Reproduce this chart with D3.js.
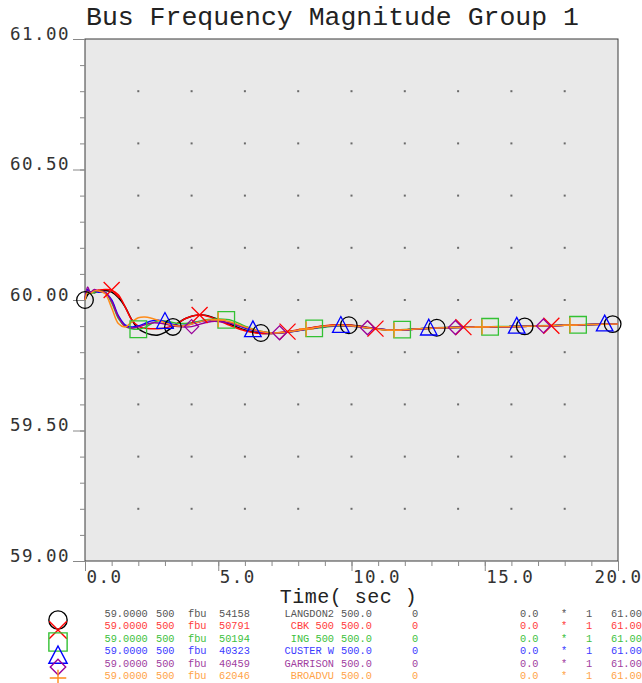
<!DOCTYPE html>
<html>
<head>
<meta charset="utf-8">
<script src="https://cdn.jsdelivr.net/npm/d3@7"></script>
<style>
  html, body { margin: 0; padding: 0; background: #ffffff; }
  svg { display: block; }
</style>
</head>
<body>
<svg id="chart" width="642" height="683"></svg>
<script>
// ---- data ----------------------------------------------------------------
const times = [0, 0.1, 0.2, 0.35, 0.5, 0.75, 1, 1.25, 1.5, 1.75,
  2, 2.25, 2.5, 2.75, 3, 3.25, 3.5, 3.75, 4, 4.25,
  4.5, 4.75, 5, 5.5, 6, 6.5, 7, 7.5, 8, 8.5,
  9, 9.5, 10, 10.5, 11, 11.5, 12, 13, 14, 15,
  16, 17, 18, 19, 20];

const freqLangdon = [60.000, 60.020, 60.030, 60.028, 60.035, 60.036, 60.030, 60.010, 59.975, 59.925,
  59.890, 59.875, 59.867, 59.866, 59.876, 59.893, 59.912, 59.928, 59.938, 59.943,
  59.942, 59.935, 59.925, 59.905, 59.885, 59.874, 59.872, 59.876, 59.884, 59.893,
  59.900, 59.904, 59.903, 59.897, 59.889, 59.885, 59.886, 59.893, 59.896, 59.897,
  59.898, 59.900, 59.903, 59.906, 59.908];

const freqCbk = [60.000, 60.035, 60.030, 60.036, 60.038, 60.040, 60.038, 60.020, 59.975, 59.925,
  59.900, 59.892, 59.890, 59.890, 59.893, 59.900, 59.912, 59.928, 59.938, 59.943,
  59.941, 59.933, 59.922, 59.900, 59.882, 59.873, 59.872, 59.877, 59.886, 59.894,
  59.901, 59.905, 59.903, 59.896, 59.889, 59.885, 59.886, 59.892, 59.896, 59.897,
  59.898, 59.900, 59.903, 59.906, 59.908];

const freqIng = [60.000, 60.030, 60.025, 60.030, 60.033, 60.030, 59.990, 59.930, 59.900, 59.890,
  59.888, 59.895, 59.910, 59.920, 59.920, 59.915, 59.910, 59.910, 59.913, 59.918,
  59.923, 59.926, 59.927, 59.922, 59.900, 59.882, 59.874, 59.875, 59.882, 59.890,
  59.896, 59.900, 59.899, 59.894, 59.888, 59.885, 59.887, 59.892, 59.895, 59.897,
  59.899, 59.901, 59.904, 59.906, 59.908];

const freqCuster = [60.000, 60.040, 60.030, 60.035, 60.030, 60.028, 60.000, 59.940, 59.905, 59.897,
  59.900, 59.910, 59.920, 59.922, 59.917, 59.908, 59.902, 59.903, 59.908, 59.915,
  59.920, 59.922, 59.920, 59.910, 59.893, 59.880, 59.873, 59.875, 59.883, 59.891,
  59.898, 59.902, 59.900, 59.895, 59.889, 59.885, 59.886, 59.892, 59.895, 59.897,
  59.898, 59.900, 59.903, 59.906, 59.908];

const freqGarrison = [60.000, 60.050, 60.030, 60.040, 60.033, 60.030, 59.995, 59.935, 59.900, 59.893,
  59.897, 59.905, 59.912, 59.912, 59.908, 59.902, 59.898, 59.897, 59.898, 59.905,
  59.913, 59.918, 59.918, 59.910, 59.895, 59.880, 59.873, 59.875, 59.883, 59.891,
  59.898, 59.902, 59.900, 59.895, 59.889, 59.885, 59.886, 59.892, 59.895, 59.897,
  59.898, 59.900, 59.903, 59.906, 59.908];

const freqBroadvu = [60.000, 60.030, 60.025, 60.035, 60.035, 60.025, 59.970, 59.910, 59.897, 59.915,
  59.932, 59.935, 59.930, 59.922, 59.913, 59.905, 59.900, 59.902, 59.908, 59.915,
  59.921, 59.924, 59.924, 59.915, 59.897, 59.882, 59.874, 59.876, 59.884, 59.892,
  59.899, 59.903, 59.901, 59.895, 59.888, 59.884, 59.886, 59.892, 59.895, 59.897,
  59.898, 59.900, 59.903, 59.906, 59.908];

const busNumbers = ["54158", "50791", "50194", "40323", "40459", "62046"];
const busNames = ["LANGDON2", "CBK 500", "ING 500", "CUSTER W", "GARRISON", "BROADVU"];
const lineColors = ["#000000", "#ff0000", "#33c133", "#0000ff", "#990099", "#ff8c1a"];
const textColors = ["#555555", "#ff3b3b", "#3cbf3c", "#3b3bff", "#a040a0", "#ffa347"];
const markerShapes = ["circle", "x", "square", "triangle", "diamond", "plus"];
const markerStart = [0, 1, 2, 3, 4, 5];   // first marked time for each channel (s)
const markerStep = 3.3;                   // spacing between markers (s)

const yTickValues = [59.0, 59.5, 60.0, 60.5, 61.0];
const xTickValues = [0, 5, 10, 15, 20];
const legendMin = "59.0000", legendMax = "61.00", legendBase = "500", legendKv = "500.0";

const series = [freqLangdon, freqCbk, freqIng, freqCuster, freqGarrison, freqBroadvu];

// ---- layout --------------------------------------------------------------
const svg = d3.select("#chart");
const plot = { left: 85, top: 39, right: 618, bottom: 561 };

const x = d3.scaleLinear().domain([0, 20]).range([plot.left, plot.right]);
const y = d3.scaleLinear().domain([59, 61]).range([plot.bottom, plot.top]);

const monoLabel = "'DejaVu Sans Mono', 'Liberation Mono', monospace";
const courier = "'Courier New', 'Liberation Mono', 'DejaVu Sans Mono', monospace";

// plot background + frame
svg.append("rect")
  .attr("x", plot.left).attr("y", plot.top)
  .attr("width", plot.right - plot.left).attr("height", plot.bottom - plot.top)
  .attr("fill", "#e9e9e9").attr("stroke", "#3a3a3a").attr("stroke-width", 1);

// dotted grid
const gridX = d3.range(2, 20, 2);
const gridY = d3.range(59.2, 60.9, 0.2);
const gridPts = [];
gridX.forEach(gx => gridY.forEach(gy => gridPts.push([gx, gy])));
svg.append("g").selectAll("rect").data(gridPts).join("rect")
  .attr("x", d => x(d[0]) - 1).attr("y", d => y(d[1]) - 1)
  .attr("width", 2).attr("height", 2).attr("fill", "#6a6a6a");

// title
svg.append("text")
  .attr("x", 86).attr("y", 25)
  .attr("font-family", courier).attr("font-size", 26.5)
  .attr("fill", "#222")
  .text("Bus Frequency Magnitude Group 1");

// y axis: minor ticks then labelled major ticks
const yMinor = svg.append("g").attr("transform", `translate(${plot.left},0)`)
  .call(d3.axisLeft(y).tickValues(d3.range(59, 61.001, 0.1)).tickSize(5).tickFormat(""));
yMinor.select(".domain").remove();
yMinor.selectAll("line").attr("stroke", "#888");

const yMajor = svg.append("g").attr("transform", `translate(${plot.left},0)`)
  .call(d3.axisLeft(y).tickValues(yTickValues).tickSize(12).tickPadding(4).tickFormat(d3.format(".2f")));
yMajor.select(".domain").remove();
yMajor.selectAll("line").attr("stroke", "#888");
yMajor.selectAll("text")
  .attr("font-family", monoLabel).attr("font-size", 17.5)
  .attr("letter-spacing", 1.45)
  .attr("fill", "#333").attr("dy", 0).attr("x", -15);

// x axis
const xMinor = svg.append("g").attr("transform", `translate(0,${plot.bottom})`)
  .call(d3.axisBottom(x).tickValues(d3.range(0, 20.001, 1)).tickSize(5).tickFormat(""));
xMinor.select(".domain").remove();
xMinor.selectAll("line").attr("stroke", "#888");

const xMajor = svg.append("g").attr("transform", `translate(0,${plot.bottom})`)
  .call(d3.axisBottom(x).tickValues(xTickValues).tickSize(10).tickFormat(d3.format(".1f")));
xMajor.select(".domain").remove();
xMajor.selectAll("line").attr("stroke", "#888");
xMajor.selectAll("text")
  .attr("font-family", monoLabel).attr("font-size", 17.5)
  .attr("letter-spacing", 1.45)
  .attr("fill", "#333")
  .attr("text-anchor", "start")
  .attr("y", 22).attr("dy", 0)
  .each(function(d) {
    const w = this.getComputedTextLength();
    const left = Math.min(x(d) + 1, 642 - w) - x(d);
    d3.select(this).attr("x", left);
  });

svg.append("text")
  .attr("x", (plot.left + plot.right) / 2 - 3).attr("y", 603)
  .attr("text-anchor", "middle")
  .attr("font-family", courier).attr("font-size", 20)
  .attr("letter-spacing", 0.5)
  .attr("fill", "#222")
  .text("Time( sec )");

// ---- curves --------------------------------------------------------------
const line = d3.line()
  .x((d, i) => x(times[i]))
  .y(d => y(d))
  .curve(d3.curveCatmullRom.alpha(0.5));

const curves = svg.append("g");
series.forEach((vals, k) => {
  curves.append("path")
    .attr("d", line(vals))
    .attr("fill", "none")
    .attr("stroke", lineColors[k])
    .attr("stroke-width", 1.5);
});

// hollow marker shapes
function markerPath(shape, cx, cy, s) {
  const p = d3.path();
  if (shape === "circle") {
    p.moveTo(cx + s, cy); p.arc(cx, cy, s, 0, 2 * Math.PI);
  } else if (shape === "x") {
    p.moveTo(cx - s, cy - s); p.lineTo(cx + s, cy + s);
    p.moveTo(cx + s, cy - s); p.lineTo(cx - s, cy + s);
  } else if (shape === "square") {
    p.rect(cx - s, cy - s, 2 * s, 2 * s);
  } else if (shape === "triangle") {
    p.moveTo(cx, cy - s * 1.1); p.lineTo(cx + s, cy + s * 0.8); p.lineTo(cx - s, cy + s * 0.8); p.closePath();
  } else if (shape === "diamond") {
    p.moveTo(cx, cy - s); p.lineTo(cx + s, cy); p.lineTo(cx, cy + s); p.lineTo(cx - s, cy); p.closePath();
  } else if (shape === "plus") {
    p.moveTo(cx - s, cy); p.lineTo(cx + s, cy);
    p.moveTo(cx, cy - s); p.lineTo(cx, cy + s);
  }
  return p.toString();
}
const markerSize = { circle: 8.3, x: 8, square: 8.3, triangle: 8.3, diamond: 7, plus: 7.5 };

function valueAt(vals, t) {
  const i = Math.min(d3.bisectRight(times, t), times.length - 1);
  const i0 = Math.max(i - 1, 0);
  const t0 = times[i0], t1 = times[i];
  const f = t1 === t0 ? 0 : (t - t0) / (t1 - t0);
  return vals[i0] + (vals[i] - vals[i0]) * f;
}

const marks = svg.append("g");
series.forEach((vals, k) => {
  const shape = markerShapes[k];
  for (let t = markerStart[k]; t <= 20.001; t += markerStep) {
    marks.append("path")
      .attr("d", markerPath(shape, x(t), y(valueAt(vals, t)), markerSize[shape]))
      .attr("fill", "none")
      .attr("stroke", lineColors[k])
      .attr("stroke-width", 1.3);
  }
});

// ---- legend --------------------------------------------------------------
const legend = svg.append("g");
const rowY0 = 617, rowStep = 12.45;
const legendSymbolY = [620, 630, 642, 656, 667, 678];
series.forEach((vals, k) => {
  const by = rowY0 + k * rowStep;
  const g = legend.append("g")
    .attr("font-family", courier).attr("font-size", 10.3)
    .attr("fill", textColors[k]);
  const cells = [
    [104.5, legendMin, "start"], [156, legendBase, "start"], [188, "fbu", "start"],
    [219, busNumbers[k], "start"], [334, busNames[k], "end"], [341, legendKv, "start"],
    [412, "0", "start"], [520, "0.0", "start"], [561, "*", "start"],
    [586, "1", "start"], [611, legendMax, "start"]
  ];
  cells.forEach(c => g.append("text").attr("x", c[0]).attr("y", by)
    .attr("text-anchor", c[2]).text(c[1]));
  const shape = markerShapes[k];
  legend.append("path")
    .attr("d", markerPath(shape, 58, legendSymbolY[k], markerSize[shape] * 1.1))
    .attr("fill", "none").attr("stroke", lineColors[k]).attr("stroke-width", 1.4);
});
</script>
</body>
</html>
